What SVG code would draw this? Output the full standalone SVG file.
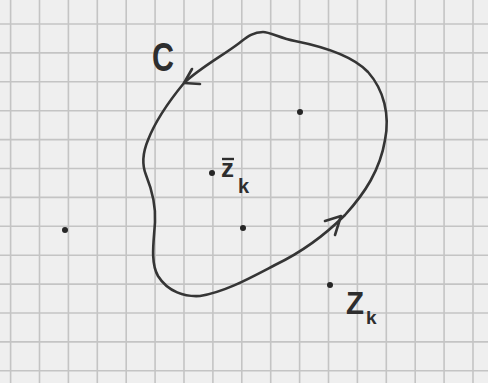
<svg xmlns="http://www.w3.org/2000/svg" width="488" height="383" viewBox="0 0 488 383">
<style>
.grid line{stroke:#c4c4c4;stroke-width:1.6}
.ink{fill:none;stroke:#353535;stroke-width:2.6;stroke-linecap:round;stroke-linejoin:round}
.dot{fill:#262626}
.lbl{font-family:"Liberation Sans",Arial,sans-serif;fill:#2e2e2e}
</style>
<rect x="0" y="0" width="488" height="383" fill="#efefef"/>
<g class="grid" id="grid">
<line x1="10.6" y1="0" x2="10.6" y2="383"/>
<line x1="39.5" y1="0" x2="39.5" y2="383"/>
<line x1="68.4" y1="0" x2="68.4" y2="383"/>
<line x1="97.3" y1="0" x2="97.3" y2="383"/>
<line x1="126.2" y1="0" x2="126.2" y2="383"/>
<line x1="155.1" y1="0" x2="155.1" y2="383"/>
<line x1="184" y1="0" x2="184" y2="383"/>
<line x1="212.9" y1="0" x2="212.9" y2="383"/>
<line x1="241.8" y1="0" x2="241.8" y2="383"/>
<line x1="270.7" y1="0" x2="270.7" y2="383"/>
<line x1="299.6" y1="0" x2="299.6" y2="383"/>
<line x1="328.5" y1="0" x2="328.5" y2="383"/>
<line x1="357.4" y1="0" x2="357.4" y2="383"/>
<line x1="386.3" y1="0" x2="386.3" y2="383"/>
<line x1="415.2" y1="0" x2="415.2" y2="383"/>
<line x1="444.1" y1="0" x2="444.1" y2="383"/>
<line x1="473" y1="0" x2="473" y2="383"/>
<line x1="0" y1="24" x2="488" y2="24"/>
<line x1="0" y1="52.9" x2="488" y2="52.9"/>
<line x1="0" y1="81.8" x2="488" y2="81.8"/>
<line x1="0" y1="110.7" x2="488" y2="110.7"/>
<line x1="0" y1="139.6" x2="488" y2="139.6"/>
<line x1="0" y1="168.5" x2="488" y2="168.5"/>
<line x1="0" y1="197.4" x2="488" y2="197.4"/>
<line x1="0" y1="226.3" x2="488" y2="226.3"/>
<line x1="0" y1="255.2" x2="488" y2="255.2"/>
<line x1="0" y1="284.1" x2="488" y2="284.1"/>
<line x1="0" y1="313" x2="488" y2="313"/>
<line x1="0" y1="341.9" x2="488" y2="341.9"/>
<line x1="0" y1="370.8" x2="488" y2="370.8"/>
</g>
<g id="connectors">
<path class="ink" d="M263,32 C252,32 246,38 238,44 C222,56 200,68 184,83 C170,100 155,122 148,140 C143,152 142,165 146,175 C152,190 156,205 155,222 C154,240 150,262 158,276 C168,292 185,297 200,296 C225,292 250,278 275,265 C300,253 325,235 345,215 C365,193 380,170 385,140 C390,115 384,90 368,72 C352,55 320,46 295,41 C280,38 270,32 263,32 Z"/>
<path class="ink" d="M192,69 L184,83 L200,84"/>
<path class="ink" d="M325,221 L341,216 L335,235"/>
<text class="lbl" x="152" y="71" font-size="40" font-weight="bold" textLength="22" lengthAdjust="spacingAndGlyphs">C</text>
</g>
<g id="p1"><circle class="dot" cx="300" cy="112" r="3"/></g>
<g id="zk">
<circle class="dot" cx="212" cy="173" r="3"/>
<text class="lbl" x="221" y="177" font-size="26" font-weight="bold" textLength="13" lengthAdjust="spacingAndGlyphs">z</text>
<line x1="222" y1="159" x2="234" y2="159" stroke="#2e2e2e" stroke-width="2.4"/>
<text class="lbl" x="238" y="193" font-size="20" font-weight="bold">k</text>
</g>
<g id="p3"><circle class="dot" cx="243" cy="228" r="3"/></g>
<g id="p4"><circle class="dot" cx="65" cy="230" r="3"/></g>
<g id="Zk">
<circle class="dot" cx="330" cy="285" r="3"/>
<text class="lbl" x="346" y="314" font-size="32" font-weight="bold" textLength="18" lengthAdjust="spacingAndGlyphs">Z</text>
<text class="lbl" x="366" y="324" font-size="19" font-weight="bold">k</text>
</g>
</svg>
